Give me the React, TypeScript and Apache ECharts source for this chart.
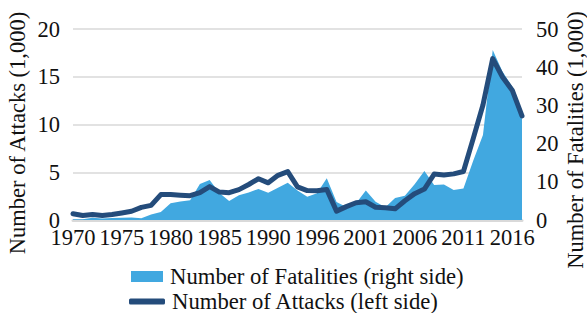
import React, { useEffect, useRef } from "react";
import * as echarts from "echarts";

const years: string[] = [
  "1970","1971","1972","1973","1974","1975","1976","1977","1978","1979",
  "1980","1981","1982","1983","1984","1985","1986","1987","1988","1989",
  "1990","1991","1992","1994","1995","1996","1997","1998","1999","2000",
  "2001","2002","2003","2004","2005","2006","2007","2008","2009","2010",
  "2011","2012","2013","2014","2015","2016","2017",
];

// Number of attacks (thousands) - left axis
const attacks: number[] = [
  0.65, 0.47, 0.57, 0.47, 0.58, 0.74, 0.92, 1.32, 1.53, 2.66,
  2.66, 2.59, 2.54, 2.87, 3.5, 2.92, 2.86, 3.18, 3.72, 4.32,
  3.89, 4.68, 5.07, 3.46, 3.08, 3.06, 3.2, 0.93, 1.4, 1.81,
  1.91, 1.33, 1.28, 1.17, 2.02, 2.76, 3.24, 4.81, 4.72, 4.83,
  5.08, 8.52, 12.04, 16.9, 14.97, 13.59, 10.9,
];

// Number of fatalities (thousands) - right axis
const fatalities: number[] = [
  0.17, 0.17, 0.57, 0.37, 0.54, 0.62, 0.67, 0.46, 1.46, 2.1,
  4.4, 4.85, 5.14, 9.44, 10.45, 7.09, 4.98, 6.48, 7.19, 8.14,
  7.15, 8.43, 9.74, 7.69, 6.1, 6.97, 10.92, 4.69, 3.39, 4.4,
  7.73, 4.81, 3.32, 5.74, 6.33, 9.38, 12.82, 9.16, 9.27, 7.83,
  8.25, 15.5, 22.27, 44.49, 38.85, 34.87, 26.45,
];

const leftTicks = { min: 0, max: 20, interval: 5 };
const rightTicks = { min: 0, max: 50, interval: 10 };

const FATAL_NAME = "Number of Fatalities (right side)";
const ATTACK_NAME = "Number of Attacks (left side)";

const FONT = "'Liberation Serif', 'Times New Roman', serif";
const FS = 22.5;
const AREA_COLOR = "#41A8E0";
const LINE_COLOR = "#244C7B";
const TEXT_COLOR = "#111";

export default function App() {
  const ref = useRef<HTMLDivElement>(null);
  useEffect(() => {
    if (!ref.current) return;
    const chart = echarts.init(ref.current, undefined, { renderer: "svg" });
    const legendText = { color: TEXT_COLOR, fontFamily: FONT, fontSize: 22.7, padding: [0, 0, 0, 2] };
    chart.setOption({
      animation: false,
      backgroundColor: "#fff",
      grid: { left: 73, right: 65, top: 29, bottom: 93 },
      xAxis: {
        type: "category",
        data: years,
        boundaryGap: false,
        axisLine: { show: true, lineStyle: { color: "#D9D9D9", width: 3 } },
        axisTick: { show: false },
        axisLabel: {
          interval: 4,
          color: TEXT_COLOR,
          fontFamily: FONT,
          fontSize: FS,
          margin: 6,
        },
      },
      yAxis: [
        {
          type: "value",
          min: leftTicks.min,
          max: leftTicks.max,
          interval: leftTicks.interval,
          axisLine: { show: false },
          axisTick: { show: false },
          splitLine: { lineStyle: { color: "#D9D9D9", width: 1.5 } },
          axisLabel: { color: TEXT_COLOR, fontFamily: FONT, fontSize: FS, margin: 13 },
        },
        {
          type: "value",
          min: rightTicks.min,
          max: rightTicks.max,
          interval: rightTicks.interval,
          position: "right",
          axisLine: { show: false },
          axisTick: { show: false },
          splitLine: { show: false },
          axisLabel: { color: TEXT_COLOR, fontFamily: FONT, fontSize: FS, margin: 14 },
        },
      ],
      legend: [
        {
          orient: "horizontal",
          left: 126,
          top: 260,
          itemWidth: 32,
          itemHeight: 11,
          textStyle: legendText,
          data: [{ name: FATAL_NAME, icon: "rect" }],
        },
        {
          orient: "horizontal",
          left: 124,
          top: 285,
          itemWidth: 36,
          itemHeight: 6,
          textStyle: legendText,
          data: [{ name: ATTACK_NAME, icon: "roundRect" }],
        },
      ],
      series: [
        {
          name: FATAL_NAME,
          type: "line",
          yAxisIndex: 1,
          data: fatalities,
          showSymbol: false,
          symbol: "none",
          lineStyle: { width: 0, color: AREA_COLOR },
          itemStyle: { color: AREA_COLOR },
          areaStyle: { color: AREA_COLOR, opacity: 1 },
          z: 1,
        },
        {
          name: ATTACK_NAME,
          type: "line",
          yAxisIndex: 0,
          data: attacks,
          showSymbol: false,
          symbol: "none",
          lineStyle: { width: 5, color: LINE_COLOR, cap: "round", join: "round" },
          itemStyle: { color: LINE_COLOR },
          z: 2,
        },
      ],
      graphic: [
        {
          type: "text",
          x: 17,
          y: 133,
          rotation: Math.PI / 2,
          style: {
            text: "Number of Attacks (1,000)",
            font: `${FS}px ${FONT}`,
            fill: TEXT_COLOR,
            textAlign: "center",
            textVerticalAlign: "middle",
          },
        },
        {
          type: "text",
          x: 575,
          y: 140,
          rotation: Math.PI / 2,
          style: {
            text: "Number of Fatalities (1,000)",
            font: `${FS}px ${FONT}`,
            fill: TEXT_COLOR,
            textAlign: "center",
            textVerticalAlign: "middle",
          },
        },
      ],
    });
    return () => chart.dispose();
  }, []);
  return <div ref={ref} style={{ width: 587, height: 313, position: "absolute", left: 0, top: 0 }} />;
}
